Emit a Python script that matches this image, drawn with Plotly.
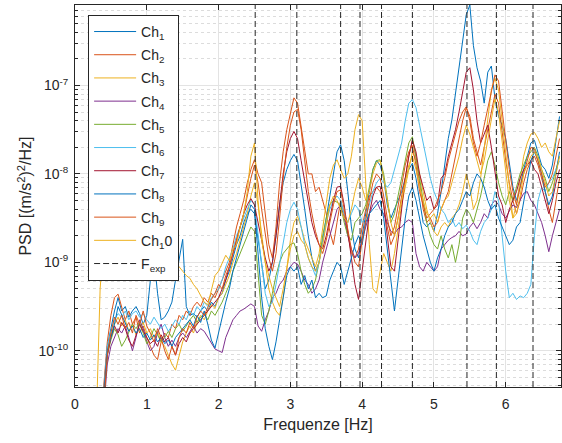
import numpy as np
import plotly.graph_objects as go

# Frequency bins of the PSD estimate [Hz]
f_start, f_step, n_bins = 0.30, 0.05, 130
freq = np.round(f_start + f_step * np.arange(n_bins), 2)

# log10 of PSD [(m/s^2)^2/Hz], one list per channel (rows of 0.5 Hz)
ch1 = [-11.5, -11.0, -10.4, -9.95, -9.75, -9.55, -9.40, -9.55, -9.50, -9.62,
       -9.55, -9.50, -9.58, -9.70, -9.60, -9.20, -8.95, -9.35, -9.65, -9.62,
       -9.55, -9.45, -9.20, -8.95, -8.74, -9.50, -9.60, -9.58, -9.62, -9.55,
       -9.50, -9.55, -9.45, -9.50, -9.40, -9.35, -9.20, -9.10, -8.95, -8.80,
       -8.70, -8.55, -8.45, -8.40, -8.45, -8.75, -9.05, -9.30, -9.20, -9.00,
       -8.70, -8.35, -8.10, -7.95, -7.85, -7.78, -7.85, -8.10, -8.40, -8.70,
       -8.95, -9.10, -9.00, -8.75, -8.50, -8.25, -7.95, -7.75, -7.67, -7.85,
       -8.20, -8.60, -8.85, -8.95, -8.70, -8.45, -8.20, -7.95, -7.85, -7.90,
       -8.05, -8.35, -8.50, -8.40, -8.30, -8.20, -8.05, -7.95, -7.88, -8.05,
       -8.30, -8.55, -8.60, -8.55, -8.65, -8.45, -8.20, -7.90, -7.60, -7.39,
       -7.10, -6.80, -6.50, -6.20, -6.09, -6.55, -6.80, -6.95, -7.20, -6.85,
       -6.78, -7.15, -7.35, -7.45, -7.60, -7.90, -8.15, -8.30, -8.15, -7.95,
       -7.80, -7.65, -7.62, -7.75, -7.90, -7.95, -8.05, -7.90, -7.60, -7.35]

ch2 = [-11.4, -10.9, -10.3, -9.90, -9.60, -9.40, -9.36, -9.50, -9.65, -9.55,
       -9.70, -9.62, -9.80, -9.72, -9.85, -9.95, -10.05, -10.10, -9.90, -9.80,
       -9.85, -9.70, -9.75, -9.60, -9.65, -9.55, -9.60, -9.50, -9.45, -9.50,
       -9.40, -9.45, -9.35, -9.40, -9.30, -9.20, -9.10, -9.00, -8.80, -8.60,
       -8.45, -8.30, -8.10, -7.95, -7.84, -8.00, -8.10, -8.45, -8.80, -8.95,
       -8.60, -8.10, -7.75, -7.50, -7.30, -7.14, -7.20, -7.45, -7.75, -8.00,
       -8.00, -8.20, -8.15, -8.30, -8.45, -8.65, -8.80, -8.55, -8.30, -8.45,
       -8.70, -8.90, -8.95, -8.85, -8.60, -8.40, -8.25, -8.20, -8.15, -8.20,
       -8.35, -8.60, -8.80, -8.70, -8.50, -8.25, -8.05, -7.80, -7.62, -7.80,
       -8.10, -8.40, -8.55, -8.50, -8.60, -8.55, -8.40, -8.30, -8.20, -8.00,
       -7.80, -7.60, -7.40, -7.25, -7.35, -7.60, -7.75, -7.90, -7.70, -7.50,
       -7.30, -7.10, -7.20, -7.55, -7.85, -8.10, -8.30, -8.45, -8.30, -8.10,
       -7.95, -7.85, -7.80, -7.90, -8.05, -8.20, -8.40, -8.55, -8.30, -8.05]

ch3 = [-11.5, -11.0, -10.45, -10.00, -9.82, -9.70, -9.62, -9.72, -9.65, -9.78,
       -9.70, -9.82, -9.75, -9.68, -9.80, -9.75, -9.85, -9.78, -9.90, -9.95,
       -10.05, -10.15, -10.22, -10.05, -9.90, -9.80, -9.72, -9.80, -9.68, -9.60,
       -9.65, -9.55, -9.48, -9.52, -9.40, -9.35, -9.25, -9.15, -9.00, -8.90,
       -8.75, -8.60, -8.45, -8.25, -8.10, -8.35, -8.70, -9.00, -9.30, -9.45,
       -9.55, -9.60, -9.40, -9.05, -8.75, -8.55, -8.48, -8.60, -8.75, -8.85,
       -8.95, -9.05, -8.90, -8.60, -8.30, -8.05, -7.90, -7.84, -7.95, -8.05,
       -8.00, -7.80, -7.50, -7.33, -7.40, -8.10, -8.80, -9.30, -9.35, -9.10,
       -8.90, -9.00, -9.10, -8.90, -8.60, -8.35, -8.15, -7.95, -7.75, -7.85,
       -8.00, -8.20, -8.40, -8.55, -8.65, -8.70, -8.60, -8.55, -8.60, -8.50,
       -8.45, -8.35, -8.20, -8.00, -8.15, -8.40, -8.30, -8.05, -7.70, -7.35,
       -7.05, -6.92, -7.05, -7.40, -7.75, -8.10, -8.50, -8.35, -8.05, -7.80,
       -7.65, -7.55, -7.53, -7.60, -7.70, -7.65, -7.75, -7.80, -7.60, -7.40]

ch4 = [-11.7, -11.2, -10.6, -10.15, -9.95, -9.85, -9.75, -9.80, -9.72, -9.85,
       -10.00, -9.85, -9.65, -9.75, -9.90, -10.00, -9.95, -9.80, -9.70, -9.85,
       -9.95, -9.88, -9.95, -9.85, -9.80, -9.85, -9.78, -9.72, -9.80, -9.75,
       -9.78, -9.85, -9.92, -9.98, -10.00, -10.02, -9.85, -9.75, -9.65, -9.60,
       -9.55, -9.53, -9.50, -9.47, -9.50, -9.72, -9.78, -9.65, -9.55, -9.40,
       -9.35, -9.25, -9.20, -9.10, -9.05, -9.00, -9.02, -9.10, -9.20, -9.25,
       -9.35, -9.30, -9.20, -9.00, -8.85, -8.70, -8.55, -8.40, -8.35, -8.50,
       -8.70, -8.85, -8.95, -8.90, -8.75, -8.60, -8.45, -8.35, -8.30, -8.40,
       -8.45, -8.55, -8.65, -8.68, -8.62, -8.60, -8.55, -8.52, -8.55, -8.90,
       -9.05, -9.10, -9.00, -9.05, -9.10, -9.05, -8.85, -8.80, -8.75, -8.72,
       -8.70, -8.65, -8.70, -8.68, -8.60, -8.55, -8.62, -8.55, -8.45, -8.50,
       -8.35, -8.30, -8.35, -8.45, -8.50, -8.42, -8.35, -8.38, -8.30, -8.22,
       -8.20, -8.30, -8.35, -8.45, -8.55, -8.70, -8.88, -8.70, -8.55, -8.40]

ch5 = [-11.6, -11.1, -10.5, -10.05, -9.88, -9.75, -9.82, -9.95, -9.88, -9.78,
       -9.70, -9.75, -9.68, -9.80, -9.92, -9.85, -9.75, -9.82, -9.90, -9.85,
       -9.78, -9.85, -9.75, -9.70, -9.78, -9.72, -9.65, -9.60, -9.68, -9.62,
       -9.58, -9.65, -9.55, -9.60, -9.52, -9.45, -9.35, -9.25, -9.10, -9.00,
       -8.90, -8.80, -8.70, -8.60, -8.65, -9.10, -9.60, -9.70, -9.55, -9.35,
       -9.15, -9.00, -8.90, -8.85, -8.80, -8.78, -8.90, -9.10, -9.25, -9.35,
       -9.30, -9.20, -9.00, -8.70, -8.50, -8.35, -8.30, -8.32, -8.35, -8.55,
       -8.70, -8.75, -8.55, -8.50, -8.45, -8.35, -8.15, -7.95, -7.85, -7.84,
       -8.00, -8.30, -8.55, -8.45, -8.25, -8.05, -7.85, -7.65, -7.58, -7.80,
       -8.05, -8.30, -8.55, -8.70, -8.80, -8.85, -8.70, -8.85, -8.95, -8.80,
       -9.00, -8.80, -8.50, -8.40, -8.45, -8.55, -8.40, -8.25, -8.05, -7.85,
       -7.75, -7.90, -8.10, -8.25, -8.35, -8.20, -8.30, -8.15, -8.00, -7.90,
       -7.80, -7.75, -7.70, -7.80, -7.95, -8.05, -8.20, -8.10, -7.95, -7.80]

ch6 = [-11.5, -11.0, -10.4, -9.95, -9.78, -9.65, -9.58, -9.62, -9.55, -9.65,
       -9.58, -9.55, -9.62, -9.58, -9.65, -9.70, -9.62, -9.68, -9.75, -9.70,
       -9.78, -9.72, -9.65, -9.70, -9.60, -9.65, -9.55, -9.60, -9.50, -9.55,
       -9.45, -9.50, -9.40, -9.35, -9.30, -9.20, -9.05, -8.95, -8.85, -8.70,
       -8.60, -8.50, -8.40, -8.30, -8.35, -8.70, -9.05, -9.35, -9.50, -9.45,
       -9.25, -9.00, -8.75, -8.55, -8.40, -8.32, -8.40, -8.60, -8.80, -8.95,
       -9.05, -9.15, -9.00, -8.75, -8.55, -8.40, -8.30, -8.25, -8.30, -8.45,
       -8.55, -8.45, -8.35, -8.40, -8.55, -8.50, -8.35, -8.20, -8.10, -8.05,
       -8.10, -8.15, -8.10, -7.95, -7.80, -7.65, -7.40, -7.20, -7.16, -7.25,
       -7.45, -7.65, -7.85, -8.05, -8.20, -8.30, -8.40, -8.45, -8.55, -8.50,
       -8.60, -8.55, -8.62, -8.58, -8.65, -8.75, -8.80, -8.65, -8.55, -8.50,
       -8.40, -8.20, -8.30, -8.70, -9.10, -9.40, -9.35, -9.42, -9.38, -9.40,
       -9.35, -9.25, -8.70, -8.30, -8.15, -8.20, -8.10, -8.05, -7.95, -7.85]

ch7 = [-11.5, -11.0, -10.5, -10.05, -9.85, -9.72, -9.80, -9.68, -9.75, -9.88,
       -9.95, -9.82, -9.70, -9.78, -9.85, -9.92, -9.88, -9.95, -9.82, -9.90,
       -9.85, -9.95, -10.05, -9.92, -9.85, -9.90, -9.80, -9.75, -9.70, -9.65,
       -9.60, -9.55, -9.50, -9.45, -9.40, -9.30, -9.20, -9.05, -8.90, -8.75,
       -8.60, -8.45, -8.35, -8.28, -8.35, -8.55, -8.75, -8.95, -9.10, -9.00,
       -8.70, -8.35, -8.00, -7.75, -7.60, -7.52, -7.60, -7.85, -8.10, -8.35,
       -8.55, -8.70, -8.80, -8.85, -8.70, -8.50, -8.30, -8.15, -8.14, -8.35,
       -8.65, -9.00, -9.25, -9.42, -9.10, -8.75, -8.45, -8.25, -8.15, -8.14,
       -8.35, -8.70, -9.05, -9.10, -8.75, -8.40, -8.05, -7.80, -7.62, -7.75,
       -8.00, -8.15, -8.30, -8.25, -8.40, -8.35, -8.05, -8.00, -7.80, -7.65,
       -7.50, -7.30, -7.05, -6.85, -6.80, -7.05, -7.40, -7.65, -7.55, -7.45,
       -7.70, -8.00, -8.25, -8.35, -8.55, -8.40, -8.30, -8.20, -8.05, -7.95,
       -7.90, -7.85, -7.95, -8.00, -8.15, -8.30, -8.45, -8.30, -8.10, -7.95]

ch8 = [-11.6, -11.1, -10.5, -10.0, -9.85, -9.70, -9.50, -9.60, -9.70, -9.78,
       -9.72, -9.80, -9.75, -9.85, -9.80, -9.88, -9.82, -9.90, -9.85, -9.92,
       -9.88, -9.95, -9.85, -9.80, -9.75, -9.70, -9.65, -9.72, -9.60, -9.68,
       -9.55, -9.70, -9.88, -9.97, -9.80, -9.60, -9.45, -9.30, -9.10, -8.95,
       -8.80, -8.65, -8.50, -8.35, -8.40, -8.90, -9.40, -9.75, -9.95, -10.10,
       -9.90, -9.65, -9.40, -9.15, -9.05, -9.10, -9.05, -9.25, -9.15, -9.30,
       -9.20, -9.40, -9.35, -9.40, -9.38, -9.20, -9.10, -9.00, -9.05, -9.25,
       -9.10, -8.95, -8.80, -8.70, -8.80, -8.55, -8.45, -8.40, -8.35, -8.30,
       -8.50, -8.85, -9.20, -9.55, -9.20, -8.85, -8.50, -8.25, -8.15, -8.30,
       -8.50, -8.70, -8.85, -9.00, -9.10, -8.95, -8.85, -8.70, -8.60, -8.55,
       -8.45, -8.40, -8.30, -8.20, -8.25, -8.10, -8.00, -8.05, -8.15, -8.30,
       -8.40, -8.35, -8.50, -8.60, -8.70, -8.80, -8.75, -8.60, -8.55, -8.30,
       -8.05, -7.85, -7.75, -7.85, -8.00, -8.20, -8.35, -8.25, -8.00, -7.75]

ch9 = [-11.6, -11.2, -10.6, -10.05, -9.80, -9.62, -9.70, -9.60, -9.75, -9.68,
       -9.80, -9.60, -9.70, -9.55, -9.72, -9.80, -9.90, -9.75, -9.85, -10.00,
       -10.10, -9.95, -10.05, -9.85, -9.75, -9.80, -9.68, -9.75, -9.62, -9.55,
       -9.60, -9.50, -9.42, -9.35, -9.25, -9.30, -9.15, -9.05, -8.90, -8.75,
       -8.60, -8.45, -8.25, -8.05, -7.90, -8.10, -8.40, -8.70, -8.95, -9.10,
       -8.90, -8.50, -8.05, -7.70, -7.45, -7.30, -7.27, -7.50, -7.85, -8.20,
       -8.45, -8.65, -8.80, -8.90, -8.75, -8.55, -8.35, -8.20, -8.18, -8.40,
       -8.65, -8.85, -9.00, -9.05, -8.75, -8.50, -8.30, -8.10, -8.00, -8.05,
       -8.25, -8.50, -8.70, -8.60, -8.35, -8.10, -7.90, -7.75, -7.68, -7.90,
       -8.20, -8.35, -8.50, -8.45, -8.40, -8.30, -8.20, -8.05, -7.85, -7.70,
       -7.55, -7.40, -7.30, -7.24, -7.40, -7.65, -7.80, -7.65, -7.45, -7.25,
       -7.05, -6.88, -6.95, -7.30, -7.65, -7.95, -8.20, -8.35, -8.15, -8.00,
       -7.85, -7.70, -7.72, -7.85, -8.00, -8.15, -8.10, -8.00, -7.80, -7.60]

ch10 = [-10.70, -9.30, -8.75, -8.80, -8.70, -8.85, -8.75, -8.90, -8.80, -8.95,
        -8.85, -8.90, -8.80, -8.95, -8.85, -8.90, -9.00, -8.95, -9.05, -8.95,
        -9.00, -8.95, -9.05, -9.05, -9.10, -9.15, -9.18, -9.25, -9.30, -9.38,
        -9.45, -9.48, -9.30, -9.15, -9.10, -9.00, -8.92, -8.98, -8.85, -8.80,
        -8.60, -8.45, -8.20, -7.80, -7.65, -8.30, -8.75, -9.00, -9.15, -9.30,
        -9.40, -9.50, -9.30, -9.05, -8.85, -8.70, -8.65, -8.75, -8.80, -8.95,
        -9.05, -9.10, -9.00, -8.80, -8.55, -8.35, -8.25, -8.30, -8.40, -8.50,
        -8.55, -8.40, -8.20, -8.05, -8.15, -8.30, -8.20, -8.00, -7.88, -7.85,
        -8.05, -8.30, -8.55, -8.70, -8.50, -8.30, -8.10, -7.90, -7.80, -7.95,
        -8.15, -8.30, -8.45, -8.50, -8.45, -8.55, -8.40, -8.30, -8.25, -8.10,
        -7.95, -7.80, -7.60, -7.45, -7.55, -7.70, -7.85, -8.00, -7.85, -7.60,
        -7.35, -7.15, -7.30, -7.65, -8.00, -8.30, -8.50, -8.45, -8.25, -8.00,
        -7.90, -7.80, -7.75, -7.82, -7.95, -8.10, -8.25, -8.20, -8.00, -7.80]

channels = [ch1, ch2, ch3, ch4, ch5, ch6, ch7, ch8, ch9, ch10]
channel_names = ["Ch<sub>1</sub>", "Ch<sub>2</sub>", "Ch<sub>3</sub>", "Ch<sub>4</sub>",
                 "Ch<sub>5</sub>", "Ch<sub>6</sub>", "Ch<sub>7</sub>", "Ch<sub>8</sub>",
                 "Ch<sub>9</sub>", "Ch<sub>1</sub>0"]
channel_colors = ["#0072BD", "#D95319", "#EDB120", "#7E2F8E", "#77AC30",
                  "#4DBEEE", "#A2142F", "#0072BD", "#D95319", "#EDB120"]

# Experimental natural frequencies [Hz]
f_exp = [2.51, 3.09, 3.70, 3.97, 4.27, 4.70, 5.46, 5.87, 6.38]

# Axis limits
x_lim = [0, 6.77]
y_lim_log = [-10.41, -6.09]
x_ticks = [0, 1, 2, 3, 4, 5, 6]
y_tick_exp = [-10, -9, -8, -7]

INK = "#262626"
FONT = "Liberation Sans, Arial, Helvetica, sans-serif"

fig = go.Figure()

for i, (vals, name, col) in enumerate(zip(channels, channel_names, channel_colors)):
    fig.add_trace(go.Scatter(
        x=freq, y=np.power(10.0, vals), mode="lines", name=name,
        legendgroup=f"g{i}",
        line=dict(color=col, width=1),
    ))

# Dashed vertical markers at the experimental frequencies
vx, vy = [], []
for fe in f_exp:
    vx += [fe, fe, None]
    vy += [10 ** y_lim_log[0], 10 ** y_lim_log[1], None]
fig.add_trace(go.Scatter(
    x=vx, y=vy, mode="lines", name="F<sub>exp</sub>", legendgroup="gexp",
    line=dict(color=INK, width=1, dash="6px,3px"),
))

minor_vals = [k * 10.0 ** e for e in range(-11, -6) for k in range(2, 10)]

fig.update_layout(
    width=562, height=443,
    margin=dict(l=75, r=1, t=5, b=56),
    paper_bgcolor="white", plot_bgcolor="white",
    font=dict(family=FONT, size=14, color=INK),
    showlegend=True,
    legend=dict(
        x=0.027, y=0.974, xanchor="left", yanchor="top",
        bgcolor="white", bordercolor=INK, borderwidth=1,
        font=dict(family=FONT, size=14, color=INK),
        tracegroupgap=2, itemwidth=42,
    ),
    xaxis=dict(
        range=x_lim, tickmode="array", tickvals=x_ticks,
        ticks="inside", ticklen=5, tickcolor=INK,
        showline=True, linecolor=INK, linewidth=1, mirror="ticks",
        showgrid=True, gridcolor="#e3e3e3", zeroline=False,
        ticklabelstandoff=4,
        title=dict(text="Frequenze [Hz]", font=dict(size=16), standoff=8),
        tickfont=dict(size=14),
    ),
    yaxis=dict(
        type="log", range=y_lim_log, tickmode="array",
        tickvals=[10.0 ** e for e in y_tick_exp],
        ticktext=[f"10<sup>{e}</sup>" for e in y_tick_exp],
        ticks="inside", ticklen=5, tickcolor=INK,
        showline=True, linecolor=INK, linewidth=1, mirror="ticks",
        showgrid=True, gridcolor="#e3e3e3", zeroline=False,
        ticklabelstandoff=3,
        minor=dict(tickmode="array", tickvals=minor_vals, ticks="inside",
                   ticklen=3, tickcolor=INK, showgrid=True,
                   gridcolor="#dcdcdc", griddash="dot", gridwidth=1),
        title=dict(text="PSD [(m/s<sup>2</sup>)<sup>2</sup>/Hz]", font=dict(size=16), standoff=2),
        tickfont=dict(size=14),
    ),
)

fig.write_html("out.html")
